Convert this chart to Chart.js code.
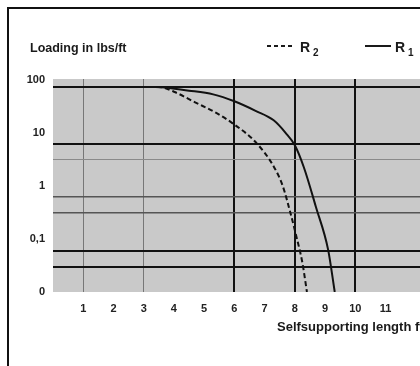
<!DOCTYPE html>
<html>
<head>
<meta charset="utf-8">
<script src="https://cdn.jsdelivr.net/npm/chart.js@4/dist/chart.umd.min.js"></script>
<style>
  html, body { margin: 0; padding: 0; background: #fff; overflow: hidden; }
  #wrap { position: relative; width: 420px; height: 366px; overflow: hidden; }
  #frame { position: absolute; left: 7px; top: 7px; width: 500px; height: 400px;
           border-left: 2px solid #111; border-top: 2px solid #111; }
  #chart { position: absolute; left: 0; top: 0; }
</style>
</head>
<body>
<div id="wrap">
  <div id="frame"></div>
  <canvas id="chart" width="456" height="366"></canvas>
</div>
<script>
// ─────────────────────────────────────────
// DATA  (y in axis units: 0 = "0", 1 = "0,1", 2 = "1", 3 = "10", 4 = "100")
// ─────────────────────────────────────────

const lengthR1 = [0, 3.4, 4.5, 5.3, 6.0, 6.7, 7.3, 7.7, 8.0, 8.3, 8.7, 9.1, 9.32];
const loadR1   = [3.87, 3.87, 3.80, 3.73, 3.60, 3.42, 3.24, 3.0, 2.77, 2.35, 1.6, 0.8, 0.0];

const lengthR2 = [0, 3.5, 4.0, 4.7, 5.4, 6.0, 6.7, 7.3, 7.6, 7.85, 8.05, 8.25, 8.4];
const loadR2   = [3.87, 3.87, 3.78, 3.58, 3.38, 3.16, 2.83, 2.37, 2.0, 1.5, 1.05, 0.55, 0.0];

const xTickLabels = ["1", "2", "3", "4", "5", "6", "7", "8", "9", "10", "11"];
const yTickValues = [0, 1, 2, 3, 4];
const yTickLabels = ["0", "0,1", "1", "10", "100"];

// grid lines drawn inside the plot
const thinGridX  = [1, 3];
const boldGridX  = [6, 8, 10];
const boldGridY  = [3.87, 2.8, 0.78, 0.48];
const midGridY   = [1.8, 1.5];
const lightGridY = [2.5];

// ─────────────────────────────────────────
// PLUGINS
// ─────────────────────────────────────────

const plotBackground = {
  id: "plotBackground",
  beforeDraw(chart) {
    const { ctx, chartArea: a } = chart;
    ctx.save();
    ctx.fillStyle = "#c9c9c9";
    ctx.fillRect(a.left, a.top, a.right - a.left, a.bottom - a.top);
    ctx.restore();
  }
};

const labels = {
  id: "labels",
  afterDraw(chart) {
    const ctx = chart.ctx;
    ctx.save();
    ctx.fillStyle = "#1a1a1a";
    ctx.textBaseline = "middle";
    ctx.font = "bold 12.5px 'Liberation Sans', Arial, sans-serif";
    ctx.fillText("Loading in lbs/ft", 30, 49);
    ctx.font = "bold 13px 'Liberation Sans', Arial, sans-serif";
    ctx.fillText("Selfsupporting length ft", 277, 327);

    // legend: R2 dashed, R1 solid
    ctx.strokeStyle = "#1a1a1a";
    ctx.lineWidth = 2;
    ctx.setLineDash([4, 3]);
    ctx.beginPath(); ctx.moveTo(267, 46); ctx.lineTo(294, 46); ctx.stroke();
    ctx.setLineDash([]);
    ctx.beginPath(); ctx.moveTo(365, 46); ctx.lineTo(391, 46); ctx.stroke();

    ctx.font = "bold 14px 'Liberation Sans', Arial, sans-serif";
    ctx.fillText("R", 300, 48);
    ctx.fillText("R", 395, 48);
    ctx.font = "bold 10px 'Liberation Sans', Arial, sans-serif";
    ctx.fillText("2", 313, 53);
    ctx.fillText("1", 408, 53);
    ctx.restore();
  }
};

// ─────────────────────────────────────────
// CHART
// ─────────────────────────────────────────

const tickFont = { family: "'Liberation Sans', Arial, sans-serif", size: 11, weight: "bold" };

new Chart(document.getElementById("chart"), {
  type: "line",
  data: {
    datasets: [
      {
        label: "R1",
        data: lengthR1.map((x, i) => ({ x: x, y: loadR1[i] })),
        borderColor: "#111",
        borderWidth: 2,
        pointRadius: 0,
        cubicInterpolationMode: "monotone",
        yAxisID: "y"
      },
      {
        label: "R2",
        data: lengthR2.map((x, i) => ({ x: x, y: loadR2[i] })),
        borderColor: "#111",
        borderWidth: 2,
        borderDash: [5, 3],
        pointRadius: 0,
        cubicInterpolationMode: "monotone",
        yAxisID: "y"
      }
    ]
  },
  options: {
    responsive: false,
    animation: false,
    layout: { padding: { top: 79, left: 0, right: 0, bottom: 0 } },
    plugins: { legend: { display: false }, tooltip: { enabled: false } },
    scales: {
      x: {
        type: "linear",
        min: 0,
        max: 13,
        border: { display: false },
        afterFit: s => { s.height = 74; },
        ticks: {
          stepSize: 1,
          autoSkip: false,
          maxRotation: 0,
          padding: 10,
          color: "#222",
          font: tickFont,
          callback: v => xTickLabels[v - 1] || ""
        },
        grid: {
          drawTicks: false,
          color: c => boldGridX.includes(c.tick.value) ? "#111"
                    : thinGridX.includes(c.tick.value) ? "#777" : "rgba(0,0,0,0)",
          lineWidth: c => boldGridX.includes(c.tick.value) ? 2 : 1
        }
      },
      y: {
        type: "linear",
        position: "left",
        min: 0,
        max: 4.02,
        border: { display: false },
        afterFit: s => { s.width = 53; },
        afterBuildTicks: s => { s.ticks = yTickValues.map(v => ({ value: v })); },
        ticks: {
          padding: 8,
          color: "#222",
          font: tickFont,
          callback: (v, i) => yTickLabels[i]
        },
        grid: { display: false, drawTicks: false }
      },
      yGrid: {
        type: "linear",
        position: "left",
        min: 0,
        max: 4.02,
        border: { display: false },
        afterFit: s => { s.width = 0; },
        afterBuildTicks: s => {
          s.ticks = boldGridY.concat(midGridY, lightGridY).map(v => ({ value: v }));
        },
        ticks: { display: false },
        grid: {
          drawTicks: false,
          color: c => boldGridY.includes(c.tick.value) ? "#111"
                    : midGridY.includes(c.tick.value) ? "#555" : "#8a8a8a",
          lineWidth: c => boldGridY.includes(c.tick.value) ? 2
                        : midGridY.includes(c.tick.value) ? 1.5 : 1
        }
      }
    }
  },
  plugins: [plotBackground, labels]
});
</script>
</body>
</html>
